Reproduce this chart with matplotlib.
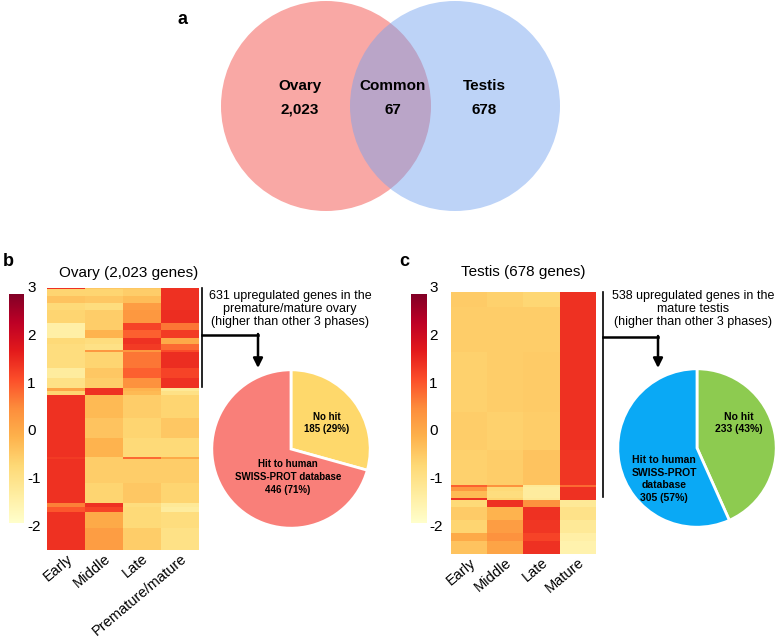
import numpy as np
import matplotlib
import matplotlib.pyplot as plt
from matplotlib.patches import Circle
from matplotlib.transforms import ScaledTranslation

matplotlib.use('Agg')
plt.rcParams['font.family'] = ['Liberation Sans', 'DejaVu Sans']

W, H = 778, 639

# Venn counts
venn_names = ["Ovary", "Common", "Testis"]
venn_counts = ["2,023", "67", "678"]

# Heatmap column labels
ovary_phases = ["Early", "Middle", "Late", "Premature/mature"]
testis_phases = ["Early", "Middle", "Late", "Mature"]

# Ovary heatmap: gene blocks (row counts) and z-scores per phase
ovary_rows = [8, 54, 54, 54, 100, 54, 62, 46, 46, 15, 124, 77, 77,
              23, 31, 178, 154, 147, 15, 185, 154, 31, 39, 124, 171]
ovary_vals = [
    [1.4, -0.45, -0.45, 1.4],
    [-0.65, -0.65, -0.55, 1.4],
    [-0.4, -0.45, -0.3, 1.4],
    [-0.75, -0.85, 0.2, 1.4],
    [-0.65, -0.55, 0.3, 1.45],
    [-1.4, -0.55, 1.2, 0.7],
    [-1.4, -0.15, 0.9, 1.3],
    [-0.75, -0.85, 1.4, 0.0],
    [-0.85, -0.95, 1.3, 0.8],
    [-0.85, 0.3, 0.3, 1.1],
    [-0.85, -0.65, 0.7, 1.45],
    [-1.3, -0.45, 0.9, 1.2],
    [-0.95, -0.55, 0.4, 1.4],
    [0.1, 1.4, -0.15, -1.2],
    [-0.65, 1.4, -0.25, -0.95],
    [1.4, -0.25, -0.55, -0.65],
    [1.4, -0.4, -0.65, -0.45],
    [1.4, -0.15, -0.75, -0.75],
    [1.3, -0.55, 0.8, 0.0],
    [1.4, -0.55, -0.55, -0.55],
    [1.4, -0.65, -0.45, -0.65],
    [0.6, 1.4, -0.85, -1.2],
    [1.0, 1.2, -0.75, -1.3],
    [1.4, 0.0, -0.75, -0.85],
    [1.4, 0.2, -0.55, -0.95],
]

# Testis heatmap blocks
testis_rows = [39, 117, 155, 98, 91, 5, 10, 18, 5, 18, 34, 34, 21, 33]
testis_vals = [
    [-0.5, -0.6, -0.7, 1.4],
    [-0.55, -0.55, -0.55, 1.4],
    [-0.6, -0.55, -0.5, 1.4],
    [-0.55, -0.6, -0.55, 1.4],
    [-0.6, -0.55, -0.4, 1.35],
    [0.9, 0.4, -1.2, 0.8],
    [0.3, -0.75, -1.3, 1.4],
    [-0.25, -0.85, -1.3, 1.4],
    [1.4, -0.65, -1.2, 1.4],
    [-0.75, 1.4, 0.4, -1.2],
    [-0.5, -0.15, 1.4, -1.0],
    [-0.65, 0.2, 1.35, -1.2],
    [0.0, 0.4, 1.2, -1.4],
    [-0.4, 0.1, 1.4, -1.5],
]

# Pie data
ovary_pie = [185, 446]
testis_pie = [233, 305]

cb_ticks = [3, 2, 1, 0, -1, -2]
vmin, vmax = -1.92, 2.875
cmap = plt.get_cmap('YlOrRd')


def px_axes(x0, y0, x1, y1):
    return fig.add_axes([x0 / W, 1 - y1 / H, (x1 - x0) / W, (y1 - y0) / H])


def draw_heatmap(box, rows, vals, labels, shift):
    ax = px_axes(*box)
    data = np.repeat(np.array(vals), rows, axis=0)
    ax.imshow(data, aspect='auto', cmap=cmap, vmin=vmin, vmax=vmax, interpolation='nearest')
    ax.set_xticks(range(4))
    ax.set_xticklabels(labels, rotation=40, ha='right', rotation_mode='anchor', fontsize=10.5)
    # nudge the rotated labels to the right like the original
    for lab in ax.get_xticklabels():
        lab.set_transform(lab.get_transform() + ScaledTranslation(shift / 100, 0, fig.dpi_scale_trans))
    ax.set_yticks([])
    ax.tick_params(length=0, pad=1)
    for s in ax.spines.values():
        s.set_visible(False)
    return ax


def draw_colorbar(box, label_x):
    ax = px_axes(*box)
    grad = np.linspace(vmax, vmin, 256).reshape(-1, 1)
    ax.imshow(grad, aspect='auto', cmap=cmap, vmin=vmin, vmax=vmax,
              extent=[0, 1, vmin, vmax])
    ax.set_ylim(vmin, vmax)
    ax.axis('off')
    top, bot = box[1], box[3]
    for t in cb_ticks:
        y = top + (vmax - t) / (vmax - vmin) * (bot - top)
        ov.text(label_x, y, str(t), fontsize=11, ha='left', va='center')


def draw_pie(center, r, values, colors):
    cx, cy = center
    ax = px_axes(cx - r, cy - r, cx + r, cy + r)
    ax.pie(values, colors=colors, startangle=90, counterclock=False, radius=0.99,
           wedgeprops=dict(edgecolor='white', linewidth=2))
    ax.set_xlim(-1, 1)
    ax.set_ylim(-1, 1)
    ax.set_aspect('equal')


fig = plt.figure(figsize=(W / 100, H / 100), dpi=100)

# overlay axes in pixel coordinates for text, lines and venn
ov = fig.add_axes([0, 0, 1, 1], zorder=10)
ov.set_xlim(0, W)
ov.set_ylim(H, 0)
ov.axis('off')

# ---- a: Venn ----
ov.add_patch(Circle((326, 106), 105, facecolor='#F9A8A5', edgecolor='none'))
ov.add_patch(Circle((455, 106), 105, facecolor='#73A2F0', alpha=0.47, edgecolor='none'))
venn_x = [300, 393, 484]
for x, name, cnt in zip(venn_x, venn_names, venn_counts):
    ov.text(x, 86, name, fontsize=11, fontweight='bold', ha='center', va='center')
    ov.text(x, 110, cnt, fontsize=11, fontweight='bold', ha='center', va='center')
ov.text(183, 20, "a", fontsize=13, fontweight='bold', ha='center', va='center')

# ---- b: Ovary ----
ov.text(8, 262, "b", fontsize=13, fontweight='bold', ha='center', va='center')
ov.text(129, 273, "Ovary (2,023 genes)", fontsize=11, ha='center', va='center')
draw_heatmap((47, 288, 199, 550), ovary_rows, ovary_vals, ovary_phases, 10)
draw_colorbar((9, 294, 24, 523), 27)
draw_pie((291, 449), 80, ovary_pie, ['#FED86B', '#F97F79'])

ov.plot([202, 202], [288, 387], color='black', lw=1.2)
ov.plot([202, 258], [335, 335], color='black', lw=1.8)
ov.annotate('', xy=(258, 368), xytext=(258, 334),
            arrowprops=dict(arrowstyle='-|>', color='black', lw=1.8, mutation_scale=14,
                            shrinkA=0, shrinkB=0))
ov.text(290, 309, "631 upregulated genes in the\npremature/mature ovary\n(higher than other 3 phases)",
        fontsize=9, ha='center', va='center', linespacing=1.12)
ov.text(327, 423, "No hit\n185 (29%)", fontsize=7, fontweight='bold',
        ha='center', va='center', linespacing=1.35)
ov.text(288, 477, "Hit to human\nSWISS-PROT database\n446 (71%)", fontsize=7,
        fontweight='bold', ha='center', va='center', linespacing=1.35)

# ---- c: Testis ----
ov.text(404, 262, "c", fontsize=13, fontweight='bold', ha='center', va='center')
ov.text(523, 272, "Testis (678 genes)", fontsize=11, ha='center', va='center')
draw_heatmap((451, 292, 596, 554), testis_rows, testis_vals, testis_phases, 5)
draw_colorbar((411, 294, 426, 523), 429)
draw_pie((697, 448), 80, testis_pie, ['#8DCB50', '#0AA9F5'])

ov.plot([603, 603], [292, 497], color='black', lw=1.2)
ov.plot([603, 658], [337, 337], color='black', lw=1.8)
ov.annotate('', xy=(658, 368), xytext=(658, 336),
            arrowprops=dict(arrowstyle='-|>', color='black', lw=1.8, mutation_scale=14,
                            shrinkA=0, shrinkB=0))
ov.text(693, 309, "538 upregulated genes in the\nmature testis\n(higher than other 3 phases)",
        fontsize=9, ha='center', va='center', linespacing=1.12)
ov.text(739, 423, "No hit\n233 (43%)", fontsize=7.5, fontweight='bold',
        ha='center', va='center', linespacing=1.35)
ov.text(664, 479, "Hit to human\nSWISS-PROT\ndatabase\n305 (57%)", fontsize=7.5,
        fontweight='bold', ha='center', va='center', linespacing=1.3)

plt.savefig("out.png", dpi=100)
plt.close()
